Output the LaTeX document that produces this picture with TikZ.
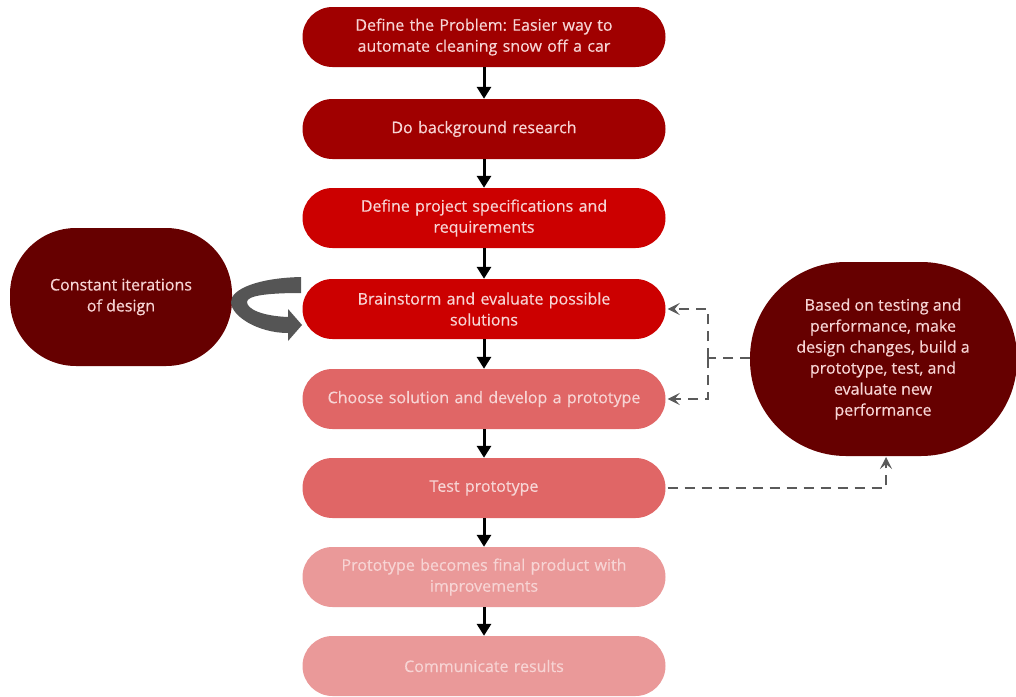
\documentclass[tikz,border=0pt]{standalone}
\usepackage{fontspec}
\setmainfont{Open Sans}[FakeBold=0.4]
\usetikzlibrary{arrows.meta}
\frenchspacing
\definecolor{redA}{HTML}{A00000}
\definecolor{redB}{HTML}{CC0000}
\definecolor{redC}{HTML}{E06666}
\definecolor{redD}{HTML}{EA9999}
\definecolor{maroon}{HTML}{660000}
\definecolor{txt}{HTML}{F7D4D4}
\definecolor{dashgray}{HTML}{5A5A5A}
\definecolor{loopgray}{HTML}{555555}
\begin{document}
\begin{tikzpicture}[x=1pt,y=-1pt,
  every node/.style={font=\fontsize{16}{21}\selectfont, text=txt, align=center},
  stepbox/.style={rounded corners=30pt, minimum width=363pt, minimum height=60pt,
    text width=345pt, inner sep=0pt},
  bubble/.style={inner sep=0pt},
  flow/.style={line width=3pt, draw=black, -{Triangle[length=12pt,width=14pt]}},
  feedback/.style={line width=2.6pt, draw=dashgray, dash pattern=on 10pt off 7pt,
    -{Stealth[length=12pt,width=12pt,inset=5pt]}},
  feedbackline/.style={line width=2.6pt, draw=dashgray, dash pattern=on 10pt off 7pt}]
\useasboundingbox (0,0) rectangle (1016,696);

% main sequence of design steps
\node[stepbox, fill=redA] (s1) at (484,37) {Define the Problem: Easier way to\\automate cleaning snow off a car};
\node[stepbox, fill=redA] (s2) at (484,129) {Do background research};
\node[stepbox, fill=redB] (s3) at (484,218) {Define project specifications and\\requirements};
\node[stepbox, fill=redB] (s4) at (484,309) {Brainstorm and evaluate possible\\solutions};
\node[stepbox, fill=redC] (s5) at (484,399) {Choose solution and develop a prototype};
\node[stepbox, fill=redC] (s6) at (484,488) {Test prototype};
\node[stepbox, fill=redD] (s7) at (484,577) {Prototype becomes final product with\\improvements};
\node[stepbox, fill=redD] (s8) at (484,666) {Communicate results};

\foreach \a/\b in {s1/s2,s2/s3,s3/s4,s4/s5,s5/s6,s6/s7,s7/s8}
  \draw[flow] (\a) -- (\b);

% side notes
\fill[maroon, rounded corners=66pt] (10,228) rectangle (232,366);
\node[bubble] (iter) at (121,297) {Constant iterations\\of design};
\fill[maroon, rounded corners=96pt] (750,262) rectangle (1017,456);
\node[bubble] (redo) at (883,359) {Based on testing and\\performance, make\\design changes, build a\\prototype, test, and\\evaluate new\\performance};
\coordinate (redoW) at (750,358);
\coordinate (redoS) at (886,457);

% looping arrow beside the brainstorm step
\fill[loopgray] (301,277) .. controls (258,278) and (231,289) .. (231,302)
  .. controls (231,316) and (258,333) .. (288,333) -- (288,341) -- (302,325)
  -- (288,309) -- (288,317) .. controls (262,316) and (247,309) .. (247,302)
  .. controls (247,296) and (265,293) .. (301,293) -- cycle;

% feedback paths
\coordinate (jn) at (708,358);
\draw[feedbackline] (redoW) -- (jn);
\draw[feedback] (jn) |- ([xshift=2pt]s4.east);
\draw[feedback] (jn) |- ([xshift=2pt]s5.east);
\draw[feedback] ([xshift=2pt]s6.east) -| (redoS);
\end{tikzpicture}
\end{document}
